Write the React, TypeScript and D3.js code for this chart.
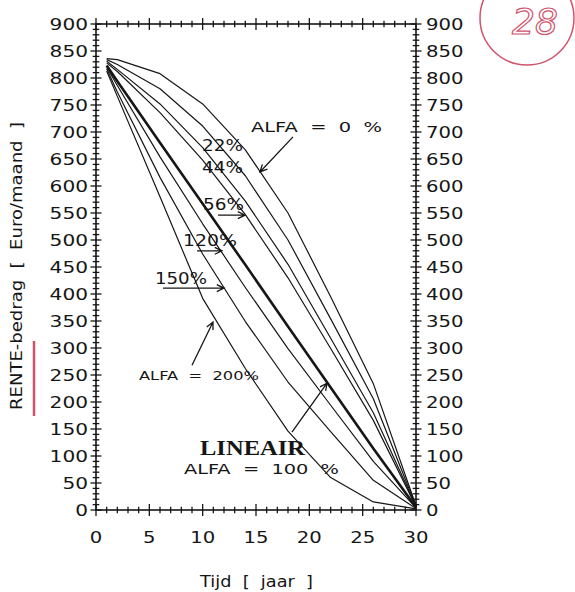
import React from 'react';
import * as d3 from 'd3';

// jaren waarop de curves gelezen zijn
const years = [1, 2, 6, 10, 14, 18, 22, 26, 30];

// rente-bedrag (Euro/maand) per ALFA
const alfa0 = [836, 834, 808, 752, 667, 550, 395, 234, 8];
const alfa22 = [834, 825, 780, 711, 619, 500, 354, 206, 7];
const alfa44 = [831, 816, 752, 671, 572, 455, 318, 180, 7];
const alfa56 = [828, 812, 736, 648, 547, 430, 299, 166, 6];
const lineair = [823, 794, 680, 567, 454, 340, 227, 114, 5];
const alfa120 = [820, 786, 654, 530, 412, 299, 194, 90, 4];
const alfa150 = [817, 774, 616, 474, 349, 237, 145, 55, 3];
const alfa200 = [813, 766, 580, 392, 262, 146, 60, 15, 2];

const series = [
  { name: '0', values: alfa0, bold: false },
  { name: '22', values: alfa22, bold: false },
  { name: '44', values: alfa44, bold: false },
  { name: '56', values: alfa56, bold: false },
  { name: '100', values: lineair, bold: true },
  { name: '120', values: alfa120, bold: false },
  { name: '150', values: alfa150, bold: false },
  { name: '200', values: alfa200, bold: false },
];

const xTickLabels = [0, 5, 10, 15, 20, 25, 30];
const yTickLabels = [0, 50, 100, 150, 200, 250, 300, 350, 400, 450, 500, 550, 600, 650, 700, 750, 800, 850, 900];

// labels bij de curves, in data-eenheden (jaar, euro)
const labels = [
  { text: '22%', t: 9.94, v: 665, size: 16, len: 41 },
  { text: '44%', t: 9.94, v: 624, size: 16, len: 41 },
  { text: '56%', t: 10.03, v: 556, size: 16, len: 41 },
  { text: '120%', t: 8.16, v: 489, size: 16, len: 54 },
  { text: '150%', t: 5.53, v: 418, size: 16, len: 52 },
  { text: 'ALFA  =  0  %', t: 14.53, v: 700, size: 14, len: 131 },
  { text: 'ALFA  =  200%', t: 4.03, v: 241, size: 13, len: 120 },
  { text: 'ALFA  =  100  %', t: 8.25, v: 67, size: 14, len: 155 },
];

const arrows = [
  { from: [18.47, 691], to: [15.37, 626] },
  { from: [11.44, 546], to: [13.97, 546] },
  { from: [9.47, 480], to: [11.81, 480] },
  { from: [6.28, 411], to: [12.0, 411] },
  { from: [9.0, 268], to: [10.97, 348] },
  { from: [18.37, 144], to: [21.66, 235] },
];

export default function App() {
  const width = 575;
  const height = 592;
  const x = d3.scaleLinear().domain([0, 30]).range([96, 416]);
  const y = d3.scaleLinear().domain([0, 900]).range([510, 24]);

  const line = d3
    .line<number>()
    .x((d, i) => x(years[i]))
    .y((d) => y(d))
    .curve(d3.curveLinear);

  const font = "'DejaVu Sans', sans-serif";
  const ink = '#161616';

  const yMinor = d3.range(0, 901, 10);
  const xMinor = d3.range(0, 31, 1);

  const arrowHead = (a: any) => {
    const [x1, y1] = [x(a.from[0]), y(a.from[1])];
    const [x2, y2] = [x(a.to[0]), y(a.to[1])];
    const ang = Math.atan2(y2 - y1, x2 - x1);
    const l = 8;
    const p1 = [x2 - l * Math.cos(ang - 0.45), y2 - l * Math.sin(ang - 0.45)];
    const p2 = [x2 - l * Math.cos(ang + 0.45), y2 - l * Math.sin(ang + 0.45)];
    return `M${x1},${y1}L${x2},${y2}M${p1[0]},${p1[1]}L${x2},${y2}L${p2[0]},${p2[1]}`;
  };

  return (
    <svg
      width={width}
      height={height}
      style={{ position: 'absolute', left: 0, top: 0, background: '#fff' }}
    >
      <rect width={width} height={height} fill="#fff" />

      {/* kader */}
      <rect x={x(0)} y={y(900)} width={x(30) - x(0)} height={y(0) - y(900)} fill="none" stroke={ink} strokeWidth={1.6} />

      {/* y-ticks links en rechts */}
      {yMinor.map((v) => {
        const h = v % 50 === 0 ? 5.5 : 3.3;
        return (
          <g key={'y' + v} stroke={ink} strokeWidth={1.3}>
            <line x1={x(0) - h} x2={x(0) + h} y1={y(v)} y2={y(v)} />
            <line x1={x(30) - h} x2={x(30) + h} y1={y(v)} y2={y(v)} />
          </g>
        );
      })}

      {/* x-ticks onder en boven */}
      {xMinor.map((t) => {
        const h = t % 5 === 0 ? 6 : 3.3;
        return (
          <g key={'x' + t} stroke={ink} strokeWidth={1.3}>
            <line x1={x(t)} x2={x(t)} y1={y(0) - h} y2={y(0) + h} />
            <line x1={x(t)} x2={x(t)} y1={y(900) - h} y2={y(900) + h} />
          </g>
        );
      })}

      {/* tick labels */}
      {yTickLabels.map((v) => {
        const s = String(v);
        return (
          <g key={'yl' + v} fontFamily={font} fontSize={15} fill={ink}>
            <text x={88 - s.length * 12.8} y={y(v) + 5.5} textLength={s.length * 12.8} lengthAdjust="spacingAndGlyphs">{s}</text>
            <text x={426} y={y(v) + 5.5} textLength={s.length * 12.5} lengthAdjust="spacingAndGlyphs">{s}</text>
          </g>
        );
      })}
      {xTickLabels.map((t) => {
        const s = String(t);
        const w = s.length * 12.5;
        return (
          <text key={'xl' + t} x={x(t) - w / 2} y={543} fontFamily={font} fontSize={15} fill={ink} textLength={w} lengthAdjust="spacingAndGlyphs">
            {s}
          </text>
        );
      })}

      {/* as-titels */}
      <text x={200} y={587} fontFamily={font} fontSize={15} fill={ink} textLength={113} lengthAdjust="spacingAndGlyphs" style={{ whiteSpace: 'pre' }}>
        {'Tijd  [  jaar  ]'}
      </text>
      <text
        transform="translate(22,410) rotate(-90)"
        fontFamily={font}
        fontSize={15}
        fill={ink}
        textLength={288}
        lengthAdjust="spacingAndGlyphs"
        style={{ whiteSpace: 'pre' }}
      >
        {'RENTE-bedrag  [  Euro/maand  ]'}
      </text>

      {/* curves */}
      {series.map((s) => (
        <path
          key={s.name}
          d={line(s.values) || ''}
          fill="none"
          stroke={ink}
          strokeWidth={s.bold ? 2.6 : 1.2}
          strokeLinejoin="round"
        />
      ))}

      {/* annotaties */}
      {labels.map((l) => (
        <text
          key={l.text}
          x={x(l.t)}
          y={y(l.v)}
          fontFamily={font}
          fontSize={l.size}
          fill={ink}
          textLength={l.len}
          lengthAdjust="spacingAndGlyphs"
          style={{ whiteSpace: 'pre' }}
        >
          {l.text}
        </text>
      ))}
      <text x={x(9.75)} y={y(102)} fontFamily="'Liberation Serif', 'DejaVu Serif', serif" fontWeight="bold" fontSize={22} fill={ink} textLength={105} lengthAdjust="spacingAndGlyphs">
        LINEAIR
      </text>
      {arrows.map((a, i) => (
        <path key={'a' + i} d={arrowHead(a)} fill="none" stroke={ink} strokeWidth={1.3} />
      ))}

      {/* rode markeringen van de scan */}
      <circle cx={527} cy={18} r={47} fill="none" stroke="#d2526c" strokeWidth={1.5} />
      <text x={512} y={34} fontFamily="'DejaVu Sans', sans-serif" fontStyle="italic" fontSize={36} fill="none" stroke="#d2526c" strokeWidth={1.2}>
        28
      </text>
      <line x1={34} x2={34} y1={341} y2={416} stroke="#d2526c" strokeWidth={2.5} />
    </svg>
  );
}
